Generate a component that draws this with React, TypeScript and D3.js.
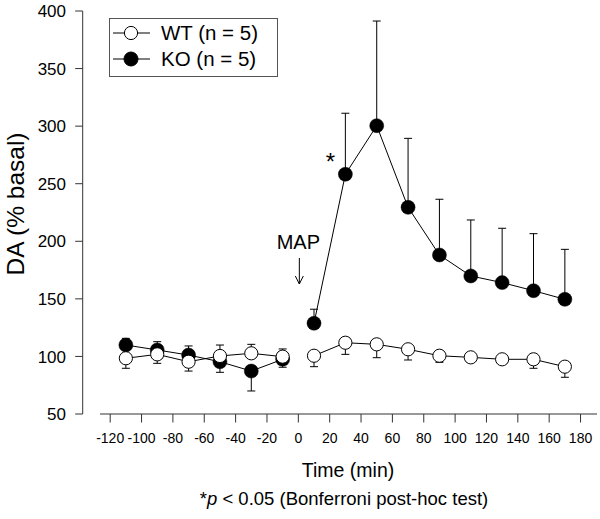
import React from "react";
import * as d3 from "d3";

const times = [-110, -90, -70, -50, -30, -10, 10, 30, 50, 70, 90, 110, 130, 150, 170];
const wtMean = [98.4, 101.8, 95.4, 100.4, 102.7, 99.8, 100.6, 111.9, 110.5, 106.2, 100.6, 99.2, 97.5, 97.5, 91.1];
const wtSem = [8.7, 7.8, 8.1, 9.5, 7.8, 6.7, 9.5, 10.1, 11.6, 9.3, 5.7, 4.2, 3.5, 7.8, 9.2];
const koMean = [109.9, 105.6, 101.2, 95.4, 87.3, 97.5, 128.8, 258.2, 300.4, 229.5, 188.1, 169.9, 164.1, 157.1, 149.6];
const koSem = [5.8, 7.2, 7.9, 9.2, 17.3, 6.9, 12.2, 53, 90.9, 59.9, 48.4, 48.6, 47.2, 49.5, 43.4];
const xTicks = [-120, -100, -80, -60, -40, -20, 0, 20, 40, 60, 80, 100, 120, 140, 160, 180];
const yTicks = [50, 100, 150, 200, 250, 300, 350, 400];
const seriesNames = ["WT (n = 5)", "KO (n = 5)"];
const sigTimes = [30];

const FONT = "'Liberation Sans', Arial, Helvetica, sans-serif";

export default function App() {
  const W = 600, H = 519;
  const x = d3.scaleLinear().domain([-126.5, 190.5]).range([100, 597]);
  const y = d3.scaleLinear().domain([50, 400]).range([414, 11]);
  const axisX = 82.7;
  const axisY = 414;

  const line = d3.line<[number, number]>().x(d => x(d[0])).y(d => y(d[1]));
  const segs = (means: number[]) => {
    const pre = times.map((t, i) => [t, means[i]] as [number, number]).filter(d => d[0] < 0);
    const post = times.map((t, i) => [t, means[i]] as [number, number]).filter(d => d[0] > 0);
    return [pre, post];
  };

  const errBars = (means: number[], sems: number[], other: number[], key: string) =>
    times.map((t, i) => {
      const up = means[i] >= other[i];
      const end = up ? means[i] + sems[i] : means[i] - sems[i];
      const cx = x(t);
      return (
        <g key={key + i} stroke="#000" strokeWidth={1}>
          <line x1={cx} x2={cx} y1={y(means[i])} y2={y(end)} />
          <line x1={cx - 4} x2={cx + 4} y1={y(end)} y2={y(end)} />
        </g>
      );
    });

  const x0 = x(0);

  return (
    <svg width={W} height={H} style={{ position: "absolute", left: 0, top: 0, background: "#fff" }} fontFamily={FONT}>
      <rect width={W} height={H} fill="#fff" />
      {/* Y axis */}
      <g stroke="#333" strokeWidth={1}>
        <line x1={axisX} x2={axisX} y1={y(400)} y2={y(50)} />
        {yTicks.map(v => (
          <line key={v} x1={axisX - 7.5} x2={axisX} y1={y(v)} y2={y(v)} />
        ))}
      </g>
      {yTicks.map(v => (
        <text key={"yl" + v} x={66} y={y(v)} dy="0.36em" textAnchor="end" fontSize={17} fill="#000">
          {v}
        </text>
      ))}
      <text transform={`translate(24,${204}) rotate(-90)`} textAnchor="middle" fontSize={24.5} fill="#000">
        DA (% basal)
      </text>

      {/* X axis */}
      <g stroke="#333" strokeWidth={1}>
        <line x1={x(-126.5)} x2={x(190.5)} y1={axisY} y2={axisY} />
        {xTicks.map(t => (
          <line key={t} x1={x(t)} x2={x(t)} y1={axisY} y2={axisY + 8.5} />
        ))}
      </g>
      {xTicks.map(t => (
        <text key={"xl" + t} x={x(t)} y={443} textAnchor="middle" fontSize={14} fill="#000">
          {t}
        </text>
      ))}
      <text x={348} y={477} textAnchor="middle" fontSize={19.5} fill="#000">Time (min)</text>
      <text x={344} y={505} textAnchor="middle" fontSize={18.5} fill="#000">
        *<tspan fontStyle="italic">p</tspan> &lt; 0.05 (Bonferroni post-hoc test)
      </text>

      {/* Error bars */}
      {errBars(koMean, koSem, wtMean, "ke")}
      {errBars(wtMean, wtSem, koMean, "we")}

      {/* Lines */}
      {segs(koMean).map((s, i) => (
        <path key={"kl" + i} d={line(s) || ""} fill="none" stroke="#000" strokeWidth={1} />
      ))}
      {segs(wtMean).map((s, i) => (
        <path key={"wl" + i} d={line(s) || ""} fill="none" stroke="#000" strokeWidth={1} />
      ))}

      {/* Markers */}
      {times.map((t, i) => (
        <circle key={"kc" + i} cx={x(t)} cy={y(koMean[i])} r={7} fill="#000" stroke="#000" strokeWidth={0.5} />
      ))}
      {times.map((t, i) => (
        <circle key={"wc" + i} cx={x(t)} cy={y(wtMean[i])} r={6.6} fill="#fff" stroke="#000" strokeWidth={1} />
      ))}

      {/* Significance */}
      {sigTimes.map(t => {
        const i = times.indexOf(t);
        return (
          <text key={"s" + t} x={x(t) - 15} y={y(koMean[i]) - 4} textAnchor="middle" fontSize={24} fill="#000">*</text>
        );
      })}

      {/* MAP annotation */}
      <text x={x0} y={249} textAnchor="middle" fontSize={20} fill="#000">MAP</text>
      <g stroke="#000" strokeWidth={1} fill="none">
        <line x1={x0 + 1} x2={x0 + 1} y1={258} y2={284} />
        <polyline points={`${x0 - 3},${276} ${x0 + 1},${284} ${x0 + 5},${276}`} />
      </g>

      {/* Legend */}
      <rect x={109.5} y={18.5} width={168} height={58} fill="#fff" stroke="#555" strokeWidth={1} />
      {seriesNames.map((name, i) => {
        const ly = 33 + i * 26;
        return (
          <g key={name}>
            <line x1={113} x2={150} y1={ly} y2={ly} stroke="#000" strokeWidth={1} />
            <circle cx={131} cy={ly} r={i === 0 ? 6.6 : 7} fill={i === 0 ? "#fff" : "#000"} stroke="#000" strokeWidth={1} />
            <text x={161} y={ly} dy="0.36em" fontSize={20.5} fill="#000">{name}</text>
          </g>
        );
      })}
    </svg>
  );
}
